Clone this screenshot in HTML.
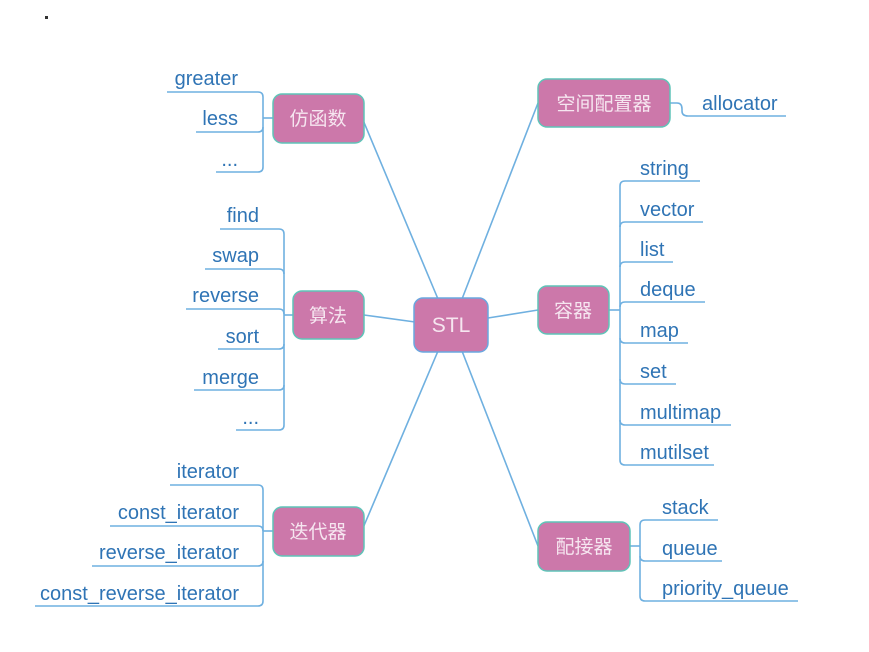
<!DOCTYPE html>
<html><head><meta charset="utf-8"><style>
html,body{margin:0;padding:0;background:#fff;width:869px;height:652px;overflow:hidden}
svg{display:block}
.t{font-family:"Liberation Sans","Noto Sans CJK SC",sans-serif;font-size:20px;fill:#2f74b5}
.n{font-family:"Liberation Sans","Noto Sans CJK SC",sans-serif;font-size:19px;fill:#f6e6f0}
.l{stroke:#6fb0e0;stroke-width:1.6;fill:none}
.b{fill:#cc78aa;stroke:#5fc4b8;stroke-width:1.5}
</style></head><body>
<svg width="869" height="652" viewBox="0 0 869 652" xmlns="http://www.w3.org/2000/svg">
<rect x="45" y="16" width="3" height="3" fill="#333"/>
<g class="l">
<line x1="363" y1="120" x2="438" y2="299"/>
<line x1="364" y1="315" x2="415" y2="322"/>
<line x1="363" y1="528" x2="438" y2="351"/>
<line x1="538" y1="103" x2="462" y2="299"/>
<line x1="538" y1="310" x2="488" y2="318"/>
<line x1="538" y1="546" x2="462" y2="351"/>
</g>
<g class="l">
<path d="M167 92 H258 Q263 92 263 97 V167 Q263 172 258 172 H216"/>
<path d="M196 132 H258 Q263 132 263 127"/>
<line x1="263" y1="118" x2="273" y2="118"/>
</g>
<text class="t" x="238" y="85" text-anchor="end">greater</text>
<text class="t" x="238" y="125" text-anchor="end">less</text>
<text class="t" x="238" y="166" text-anchor="end">...</text>
<g class="l">
<path d="M220 229 H279 Q284 229 284 234 V425 Q284 430 279 430 H236"/>
<path d="M205 269 H279 Q284 269 284 274"/>
<path d="M186 309 H279 Q284 309 284 314"/>
<path d="M218 349 H279 Q284 349 284 344"/>
<path d="M194 390 H279 Q284 390 284 385"/>
<line x1="284" y1="315" x2="293" y2="315"/>
</g>
<text class="t" x="259" y="222" text-anchor="end">find</text>
<text class="t" x="259" y="262" text-anchor="end">swap</text>
<text class="t" x="259" y="302" text-anchor="end">reverse</text>
<text class="t" x="259" y="343" text-anchor="end">sort</text>
<text class="t" x="259" y="384" text-anchor="end">merge</text>
<text class="t" x="259" y="424" text-anchor="end">...</text>
<g class="l">
<path d="M170 485 H258 Q263 485 263 490 V601 Q263 606 258 606 H35"/>
<path d="M110 526 H258 Q263 526 263 531"/>
<path d="M92 566 H258 Q263 566 263 561"/>
<line x1="263" y1="531" x2="273" y2="531"/>
</g>
<text class="t" x="239" y="478" text-anchor="end">iterator</text>
<text class="t" x="239" y="519" text-anchor="end">const_iterator</text>
<text class="t" x="239" y="559" text-anchor="end">reverse_iterator</text>
<text class="t" x="239" y="600" text-anchor="end">const_reverse_iterator</text>
<path class="l" d="M670 103 H677 Q682 103 682 109 V111 Q682 116 688 116 H786"/>
<text class="t" x="702" y="110">allocator</text>
<g class="l">
<path d="M700 181 H625 Q620 181 620 186 V460 Q620 465 625 465 H714"/>
<path d="M703 222 H625 Q620 222 620 227"/>
<path d="M673 262 H625 Q620 262 620 267"/>
<path d="M705 302 H625 Q620 302 620 307"/>
<path d="M688 343 H625 Q620 343 620 338"/>
<path d="M676 384 H625 Q620 384 620 379"/>
<path d="M731 425 H625 Q620 425 620 420"/>
<line x1="609" y1="310" x2="620" y2="310"/>
</g>
<text class="t" x="640" y="175">string</text>
<text class="t" x="640" y="216">vector</text>
<text class="t" x="640" y="256">list</text>
<text class="t" x="640" y="296">deque</text>
<text class="t" x="640" y="337">map</text>
<text class="t" x="640" y="378">set</text>
<text class="t" x="640" y="419">multimap</text>
<text class="t" x="640" y="459">mutilset</text>
<g class="l">
<path d="M718 520 H645 Q640 520 640 525 V596 Q640 601 645 601 H798"/>
<path d="M722 561 H645 Q640 561 640 556"/>
<line x1="630" y1="546" x2="640" y2="546"/>
</g>
<text class="t" x="662" y="514">stack</text>
<text class="t" x="662" y="555">queue</text>
<text class="t" x="662" y="595">priority_queue</text>
<rect class="b" x="414" y="298" width="74" height="54" rx="9" style="stroke:#6aa8e0"/>
<text class="n" x="451" y="332" text-anchor="middle" style="font-size:21px">STL</text>
<rect class="b" x="273" y="94" width="91" height="49" rx="9"/>
<text class="n" x="318" y="125" text-anchor="middle">仿函数</text>
<rect class="b" x="293" y="291" width="71" height="48" rx="9"/>
<text class="n" x="328" y="322" text-anchor="middle">算法</text>
<rect class="b" x="273" y="507" width="91" height="49" rx="9"/>
<text class="n" x="318" y="538" text-anchor="middle">迭代器</text>
<rect class="b" x="538" y="79" width="132" height="48" rx="9"/>
<text class="n" x="604" y="110" text-anchor="middle">空间配置器</text>
<rect class="b" x="538" y="286" width="71" height="48" rx="9"/>
<text class="n" x="573" y="317" text-anchor="middle">容器</text>
<rect class="b" x="538" y="522" width="92" height="49" rx="9"/>
<text class="n" x="584" y="553" text-anchor="middle">配接器</text>
</svg>
</body></html>
